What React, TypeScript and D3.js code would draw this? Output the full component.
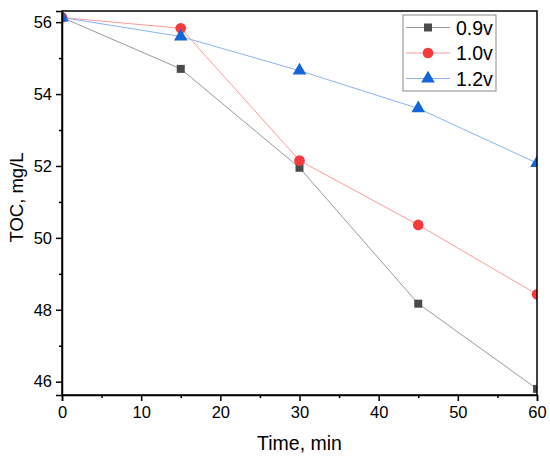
import React, { useEffect, useRef } from 'react'
import * as d3 from 'd3'

const times = [0, 15, 30, 45, 60]
const seriesNames = ['0.9v', '1.0v', '1.2v']
const toc09 = [56.13, 54.7, 51.95, 48.17, 45.8]
const toc10 = [56.13, 55.83, 52.15, 50.36, 48.43]
const toc12 = [56.13, 55.6, 54.65, 53.6, 52.08]
const xTicks = [0, 10, 20, 30, 40, 50, 60]
const yTicks = [46, 48, 50, 52, 54, 56]

const W = 550
const H = 460
const margin = { top: 11, right: 13, bottom: 65, left: 62 }

export default function App() {
  const ref = useRef<SVGSVGElement>(null)

  useEffect(() => {
    const svg = d3.select(ref.current)
    svg.selectAll('*').remove()
    const iw = W - margin.left - margin.right
    const ih = H - margin.top - margin.bottom
    const font = 'Liberation Sans, Arial, sans-serif'

    const x = d3.scaleLinear().domain([0, 60]).range([0, iw])
    const y = d3.scaleLinear().domain([45.63, 56.31]).range([ih, 0])

    svg.append('defs').append('clipPath').attr('id', 'plotclip')
      .append('rect').attr('width', iw).attr('height', ih)

    const g = svg.append('g').attr('transform', `translate(${margin.left},${margin.top})`)

    const styles = [
      { line: '#9a9a9a', fill: '#4a4a4a', shape: d3.symbolSquare, size: 64 },
      { line: '#ff9a9a', fill: '#f83a3a', shape: d3.symbolCircle, size: 90 },
      { line: '#8ab4f0', fill: '#1565d8', shape: d3.symbolTriangle, size: 80 },
    ]
    const data = [toc09, toc10, toc12]

    const plot = g.append('g').attr('clip-path', 'url(#plotclip)')
    const line = d3.line<number>().x((_, i) => x(times[i])).y(d => y(d))
    data.forEach((vals, k) => {
      plot.append('path').attr('d', line(vals)).attr('fill', 'none')
        .attr('stroke', styles[k].line).attr('stroke-width', 1)
    })
    data.forEach((vals, k) => {
      plot.selectAll(null).data(vals).enter().append('path')
        .attr('d', d3.symbol().type(styles[k].shape).size(styles[k].size)())
        .attr('transform', (d, i) => `translate(${x(times[i])},${y(d)})`)
        .attr('fill', styles[k].fill)
    })

    // frame
    g.append('rect').attr('width', iw).attr('height', ih)
      .attr('fill', 'none').attr('stroke', '#000').attr('stroke-width', 1.5)

    const xAxis = g.append('g').attr('transform', `translate(0,${ih})`)
      .call(d3.axisBottom(x).tickValues(xTicks).tickSize(6).tickPadding(5).tickFormat(d3.format('d')))
    g.append('g').attr('transform', `translate(0,${ih})`)
      .call(d3.axisBottom(x).tickValues([5, 15, 25, 35, 45, 55]).tickSize(3).tickFormat(() => ''))
      .call(a => a.select('.domain').remove())
    const yAxis = g.append('g')
      .call(d3.axisLeft(y).tickValues(yTicks).tickSize(6).tickPadding(4).tickFormat(d3.format('d')))
    g.append('g')
      .call(d3.axisLeft(y).tickValues([47, 49, 51, 53, 55]).tickSize(3).tickFormat(() => ''))
      .call(a => a.select('.domain').remove())

    g.selectAll('.domain').attr('stroke-width', 1.5)
    g.selectAll('.tick line').attr('stroke-width', 1.5)
    ;[xAxis, yAxis].forEach(a => a.selectAll('text')
      .attr('font-family', font).attr('font-size', 16.5).attr('fill', '#000'))

    svg.append('text').attr('x', margin.left + iw / 2).attr('y', 450).attr('text-anchor', 'middle')
      .attr('font-family', font).attr('font-size', 19.5).text('Time, min')
    svg.append('text').attr('transform', 'translate(23,197.5) rotate(-90)')
      .attr('text-anchor', 'middle').attr('font-family', font).attr('font-size', 18.5)
      .text('TOC, mg/L')

    // legend
    const lg = svg.append('g').attr('transform', 'translate(403,15)')
    lg.append('rect').attr('width', 93).attr('height', 76)
      .attr('fill', '#fff').attr('stroke', '#888').attr('stroke-width', 1)
    seriesNames.forEach((name, k) => {
      const yy = 12.5 + k * 25.5
      lg.append('line').attr('x1', 3).attr('x2', 47).attr('y1', yy).attr('y2', yy)
        .attr('stroke', styles[k].line).attr('stroke-width', 1)
      lg.append('path').attr('d', d3.symbol().type(styles[k].shape).size(styles[k].size)())
        .attr('transform', `translate(25,${yy})`).attr('fill', styles[k].fill)
      lg.append('text').attr('x', 53).attr('y', yy + 7).attr('font-family', font)
        .attr('font-size', 19.5).text(name)
    })
  }, [])

  return <svg ref={ref} width={W} height={H}
    style={{ display: 'block', position: 'absolute', top: 0, left: 0 }} />
}
